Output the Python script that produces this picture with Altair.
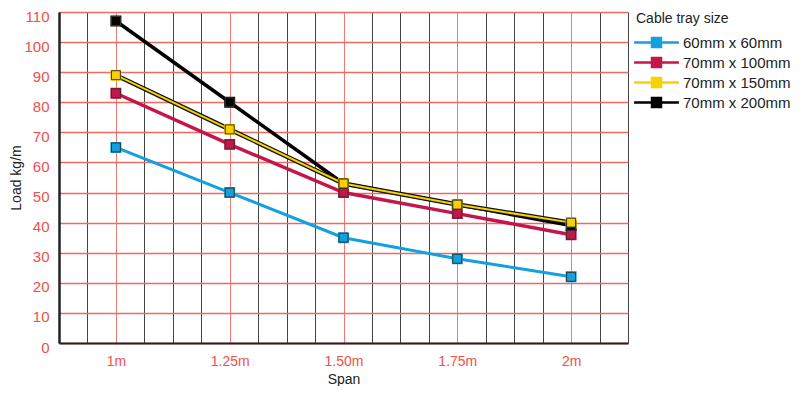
import altair as alt
import pandas as pd

spans = [1.0, 1.25, 1.5, 1.75, 2.0]
span_labels = ["1m", "1.25m", "1.50m", "1.75m", "2m"]
series_names = ["60mm x 60mm", "70mm x 100mm", "70mm x 150mm", "70mm x 200mm"]
load_60x60 = [65, 50, 35, 28, 22]
load_70x100 = [83, 66, 50, 43, 36]
load_70x150 = [89, 71, 53, 46, 40]
load_70x200 = [107, 80, 53, 46, 39]
colors = ["#12a0de", "#c4164a", "#f8d200", "#000000"]

# drawing order: 70x200 drawn before 70x150 so the yellow markers sit on top
draw_order = [0, 1, 3, 2]
all_vals = [load_60x60, load_70x100, load_70x150, load_70x200]
rows = []
for i in draw_order:
    for s, v in zip(spans, all_vals[i]):
        rows.append({"span": s, "load": v, "series": series_names[i]})
df = pd.DataFrame(rows)

grid_vals = [0.875 + k * 0.0625 for k in range(21)]
label_map = "{" + ",".join(f"'{s:g}':'{l}'" for s, l in zip(spans, span_labels)) + "}"
label_expr = f"({label_map})[toString(datum.value)] || ''"
red_test = " || ".join(f"datum.value == {s}" for s in spans)

FONT = "Liberation Sans"
RED = "#f0504a"

color_scale = alt.Scale(domain=series_names, range=colors)

x = alt.X("span:Q", scale=alt.Scale(domain=[0.875, 2.125], nice=False, zero=False),
          axis=alt.Axis(values=grid_vals, labelExpr=label_expr, title="Span",
                        gridColor={"condition": {"test": red_test, "value": "#f27a74"}, "value": "#444444"},
                        gridWidth=1, gridOpacity=1, ticks=False, labelPadding=11,
                        labelColor=RED, labelFontSize=14, labelFont=FONT,
                        titleFont=FONT, titleFontSize=14, titleFontWeight="normal", titleColor="#222",
                        titlePadding=4, domainColor="#222", domainWidth=2, labelFlush=False))
y = alt.Y("load:Q", scale=alt.Scale(domain=[0, 110], nice=False),
          axis=alt.Axis(values=list(range(0, 111, 10)), title="Load kg/m",
                        gridColor="#f06a64", gridWidth=1.3, gridOpacity=1, ticks=False, labelPadding=10,
                        labelOffset=4,
                        labelColor=RED, labelFontSize=15, labelFont=FONT,
                        titleFont=FONT, titleFontSize=14, titleFontWeight="normal", titleColor="#222",
                        titlePadding=0, domainColor="#222", domainWidth=2.5))

base = alt.Chart(df)

# legend symbol: a line with a small square in the middle; unit = 8px
sym_path = "M-2.8,0H-0.56M0.56,0H2.8M-0.56,-0.56H0.56V0.56H-0.56Z"
legend = alt.Legend(title="Cable tray size", orient="none", legendX=577, legendY=0,
                    symbolType=sym_path, symbolSize=256, symbolStrokeWidth=2.5, symbolOffset=11,
                    labelFont=FONT, labelFontSize=15, labelColor="#222",
                    titleFont=FONT, titleFontSize=14, titleFontWeight="normal", titleColor="#222",
                    labelOffset=17, rowPadding=1, titlePadding=7)

def line_for(name, width, color=None):
    enc = {"x": x, "y": y}
    if color is None:
        enc["color"] = alt.Color("series:N", scale=color_scale, legend=None)
    mk = base.transform_filter(alt.datum.series == name).mark_line(strokeWidth=width, **({"color": color} if color else {}))
    return mk.encode(**enc)

lines = [
    line_for("60mm x 60mm", 3),
    line_for("70mm x 100mm", 3.5),
    line_for("70mm x 200mm", 3.5),
    line_for("70mm x 150mm", 4.5, color="#111111"),
    line_for("70mm x 150mm", 2),
]

legend_points = base.mark_point(shape="square", filled=True, size=80, opacity=1).encode(
    x=x, y=y,
    fill=alt.Fill("series:N", scale=color_scale, legend=legend),
    stroke=alt.Stroke("series:N", scale=color_scale, legend=legend),
)

points = base.mark_point(shape="square", filled=True, size=80, stroke="#333333", strokeWidth=1, opacity=1).encode(
    x=x, y=y,
    fill=alt.Fill("series:N", scale=color_scale, legend=None),
)

chart = alt.layer(*lines, legend_points, points).resolve_legend(
    color="independent", fill="independent", stroke="independent"
).properties(
    width=569, height=331,
    padding={"left": 51, "top": 4, "right": 176, "bottom": 43},
    autosize=alt.AutoSizeParams(type="none"),
).configure_view(stroke="#222", strokeWidth=1.5).configure(background="white")

chart.save("out.html", embed_options={"renderer": "svg", "actions": False})
